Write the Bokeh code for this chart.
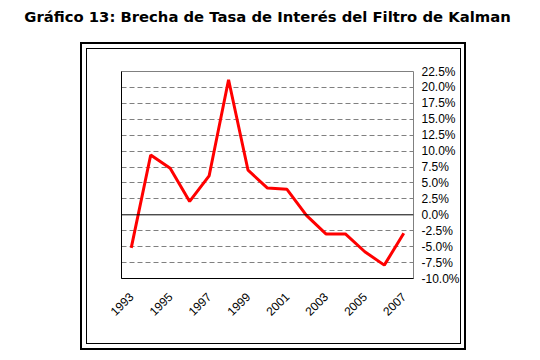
import math
from bokeh.plotting import figure
from bokeh.models import Range1d, LinearAxis, FixedTicker, PrintfTickFormatter, Span
from bokeh.embed import file_html
from bokeh.resources import INLINE

years = [1993, 1994, 1995, 1996, 1997, 1998, 1999, 2000, 2001, 2002, 2003, 2004, 2005, 2006, 2007]
brecha = [-5.2, 9.4, 7.3, 2.1, 6.1, 21.2, 7.0, 4.2, 4.0, -0.1, -3.0, -3.0, -5.8, -7.9, -2.9]
x_tick_years = [1993, 1995, 1997, 1999, 2001, 2003, 2005, 2007]
y_ticks = [-10, -7.5, -5, -2.5, 0, 2.5, 5, 7.5, 10, 12.5, 15, 17.5, 20, 22.5]
title_text = "Gráfico 13: Brecha de Tasa de Interés del Filtro de Kalman"

p = figure(width=524, height=344, output_backend="svg", toolbar_location=None,
           x_range=Range1d(1992.5, 2007.5), y_range=Range1d(-10, 22.5),
           min_border_left=121, min_border_top=71, min_border_right=111,
           min_border_bottom=66, x_axis_location="below", y_axis_location=None)

p.outline_line_color = "#808080"
p.outline_line_width = 1
p.background_fill_color = "white"
p.border_fill_color = "white"

# bottom axis (black axis line at the frame bottom) - the figure's own x axis
xa = p.below[0]
xa.ticker = FixedTicker(ticks=x_tick_years)
xa.major_label_orientation = math.pi / 4
xa.axis_line_color = "black"
xa.major_tick_line_color = None
xa.minor_tick_line_color = None
xa.major_tick_out = 0
xa.major_tick_in = 0
xa.minor_tick_out = 0
xa.major_label_text_font = "Liberation Sans"
xa.major_label_text_font_size = "12px"
xa.major_label_text_color = "black"
xa.major_label_standoff = 16

# title drawn as the label of an otherwise empty top axis
ta = LinearAxis(ticker=FixedTicker(ticks=[]), axis_label=title_text)
ta.axis_line_color = None
ta.major_tick_line_color = None
ta.minor_tick_line_color = None
ta.major_tick_out = 0
ta.major_tick_in = 0
ta.minor_tick_out = 0
ta.major_label_standoff = 0
ta.axis_label_standoff = 47
ta.axis_label_text_font = "DejaVu Sans"
ta.axis_label_text_font_style = "bold"
ta.axis_label_text_font_size = "14.8px"
ta.axis_label_text_color = "black"
p.add_layout(ta, "above")

# left axis: only its black line
la = LinearAxis(ticker=FixedTicker(ticks=[]))
la.axis_line_color = "black"
la.major_tick_line_color = None
la.minor_tick_line_color = None
la.major_tick_out = 0
la.minor_tick_out = 0
p.add_layout(la, "left")

# right y axis with percentage labels
ya = LinearAxis(ticker=FixedTicker(ticks=y_ticks),
                formatter=PrintfTickFormatter(format="%.1f%%"))
ya.axis_line_color = None
ya.major_tick_line_color = None
ya.minor_tick_line_color = None
ya.major_tick_out = 0
ya.major_tick_in = 0
ya.minor_tick_out = 0
ya.major_label_text_font = "Liberation Sans"
ya.major_label_text_font_size = "12px"
ya.major_label_text_color = "black"
ya.major_label_standoff = 8
p.add_layout(ya, "right")

p.xgrid.grid_line_color = None
p.ygrid.ticker = FixedTicker(ticks=[t for t in y_ticks if t not in (0, -10, 22.5)])
p.ygrid.grid_line_color = "#808080"
p.ygrid.grid_line_dash = "5 3"
p.ygrid.grid_line_width = 1

p.add_layout(Span(location=0, dimension="width", line_color="black", line_width=1))

p.line(years, brecha, line_color="#FF0000", line_width=3)

html = file_html(p, INLINE)
frames = (
    '<div style="position:absolute;left:80px;top:42px;width:382px;height:304px;'
    'border:2px solid black;pointer-events:none;"></div>'
    '<div style="position:absolute;left:86px;top:48px;width:373px;height:294px;'
    'border:1px solid black;pointer-events:none;"></div>'
)
html = html.replace("</body>", frames + "</body>")
open("out.html", "w").write(html)
